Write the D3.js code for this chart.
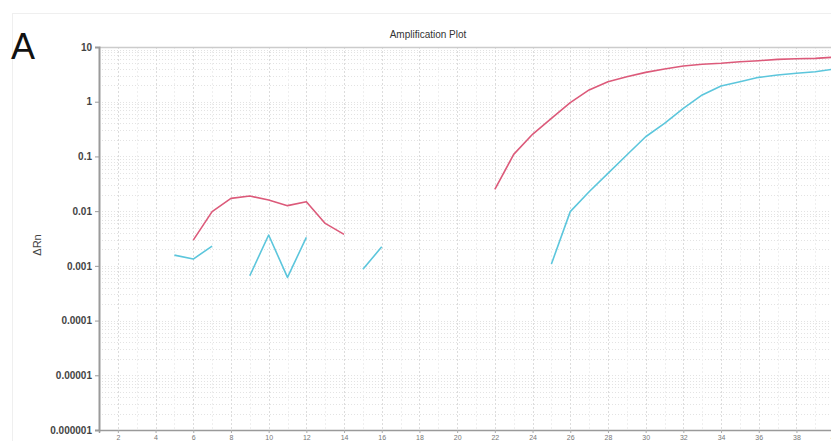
<!DOCTYPE html>
<html>
<head>
<meta charset="utf-8">
<script src="https://cdn.jsdelivr.net/npm/d3@7"></script>
<style>
  html, body { margin: 0; padding: 0; background: #fff; }
  svg { display: block; }
</style>
</head>
<body>
<svg id="chart" width="831" height="441"></svg>
<script>
// ---- data ----
const cycles = d3.range(1, 41);
const sampleRed = [
  null, null, null, null, null,
  0.00296, 0.0098, 0.0171, 0.0189, 0.016, 0.0126, 0.0149, 0.00597, 0.00376,
  null, null, null, null, null, null, null,
  0.025, 0.109, 0.254, 0.497, 0.96, 1.64, 2.32, 2.87, 3.44,
  3.96, 4.5, 4.83, 5.04, 5.38, 5.62, 5.95, 6.1, 6.2, 6.5
];
const sampleCyan = [
  null, null, null, null,
  0.00157, 0.00133, 0.0023, null,
  0.00066, 0.00366, 0.000615, 0.00332, null, null,
  0.000863, 0.00223,
  null, null, null, null, null, null, null, null,
  0.00108, 0.0098, 0.0226, 0.049, 0.106, 0.229, 0.403, 0.757, 1.33, 1.94,
  2.32, 2.79, 3.07, 3.31, 3.53, 3.96
];
const xTicks = d3.range(2, 41, 2);
const yTicks = [10, 1, 0.1, 0.01, 0.001, 0.0001, 0.00001, 0.000001];
const yTickLabels = ["10", "1", "0.1", "0.01", "0.001", "0.0001", "0.00001", "0.000001"];
const titleText = "Amplification Plot";
const yLabel = "ΔRn";
const panelLabel = "A";

// ---- layout ----
const svg = d3.select("#chart");
const pLeft = 99, pTop = 47, pBottom = 430;
const x = d3.scaleLinear().domain([1, 40]).range([pLeft, pLeft + 39 * 18.85]);
const y = d3.scaleLog().domain([1e-6, 10]).range([pBottom, pTop]);
const pRight = x(40);

// faint panel frame
svg.append("rect").attr("x", 12.5).attr("y", 13.5).attr("width", 830).attr("height", 440)
  .attr("fill", "none").attr("stroke", "#efefef").attr("stroke-width", 1);

// minor horizontal grid (log)
const minorY = [];
for (let e = -6; e < 1; e++) {
  for (let m = 1; m <= 9; m++) minorY.push(m * Math.pow(10, e));
}
minorY.push(10);
const grid = svg.append("g");
grid.selectAll("line.hy").data(minorY).join("line")
  .attr("x1", pLeft).attr("x2", pRight)
  .attr("y1", d => Math.round(y(d)) + 0.5).attr("y2", d => Math.round(y(d)) + 0.5)
  .attr("stroke", "#e3e3e3").attr("stroke-width", 1)
  .attr("stroke-dasharray", "1,2");
// vertical grid at every cycle
grid.selectAll("line.vx").data(d3.range(2, 41)).join("line")
  .attr("x1", d => Math.round(x(d)) + 0.5).attr("x2", d => Math.round(x(d)) + 0.5)
  .attr("y1", pTop).attr("y2", pBottom)
  .attr("stroke", d => d % 2 === 0 ? "#dcdcdc" : "#efefef").attr("stroke-width", 1)
  .attr("stroke-dasharray", "2,2");

// top border
svg.append("line").attr("x1", pLeft).attr("x2", pRight).attr("y1", pTop + 0.5).attr("y2", pTop + 0.5)
  .attr("stroke", "#cccccc").attr("stroke-width", 1.5);

// axes
const yAxis = d3.axisLeft(y).tickValues(yTicks).tickFormat((d, i) => yTickLabels[i]).tickSize(4).tickPadding(3);
const gy = svg.append("g").attr("transform", `translate(${pLeft},0)`).call(yAxis);
gy.select(".domain").attr("stroke", "#9a9a9a").attr("stroke-width", 2);
gy.selectAll(".tick line").attr("stroke", "#9a9a9a");
gy.selectAll(".tick text").attr("font-family", "Arial, 'Liberation Sans', sans-serif")
  .attr("font-size", 10).attr("font-weight", "bold").attr("fill", "#444");

const xAxis = d3.axisBottom(x).tickValues(xTicks).tickSize(3).tickPadding(2);
const gx = svg.append("g").attr("transform", `translate(0,${pBottom})`).call(xAxis);
gx.select(".domain").attr("stroke", "#9a9a9a").attr("stroke-width", 1.5);
gx.selectAll(".tick line").attr("stroke", "#aaa");
gx.selectAll(".tick text").attr("font-family", "Arial, 'Liberation Sans', sans-serif")
  .attr("font-size", 7).attr("fill", "#777");

// lines
const line = d3.line()
  .defined(d => d.v != null)
  .x(d => x(d.c)).y(d => y(d.v));
const series = [
  { vals: sampleRed, color: "#dc5a7a" },
  { vals: sampleCyan, color: "#5cc6dc" }
];
series.forEach(s => {
  svg.append("path")
    .datum(cycles.map((c, i) => ({ c, v: s.vals[i] })))
    .attr("d", line)
    .attr("fill", "none")
    .attr("stroke", s.color)
    .attr("stroke-width", 1.6)
    .attr("stroke-linejoin", "round");
});

// texts
svg.append("text").attr("x", 428).attr("y", 38).attr("text-anchor", "middle")
  .attr("font-family", "Arial, 'Liberation Sans', sans-serif").attr("font-size", 10)
  .attr("fill", "#333").text(titleText);
svg.append("text").attr("transform", "translate(41,245) rotate(-90)").attr("text-anchor", "middle")
  .attr("font-family", "Arial, 'Liberation Sans', sans-serif").attr("font-size", 11)
  .attr("fill", "#444").text(yLabel);
svg.append("text").attr("x", 11).attr("y", 59)
  .attr("font-family", "Arial, 'Liberation Sans', sans-serif").attr("font-size", 36)
  .attr("fill", "#111").text(panelLabel);
</script>
</body>
</html>
